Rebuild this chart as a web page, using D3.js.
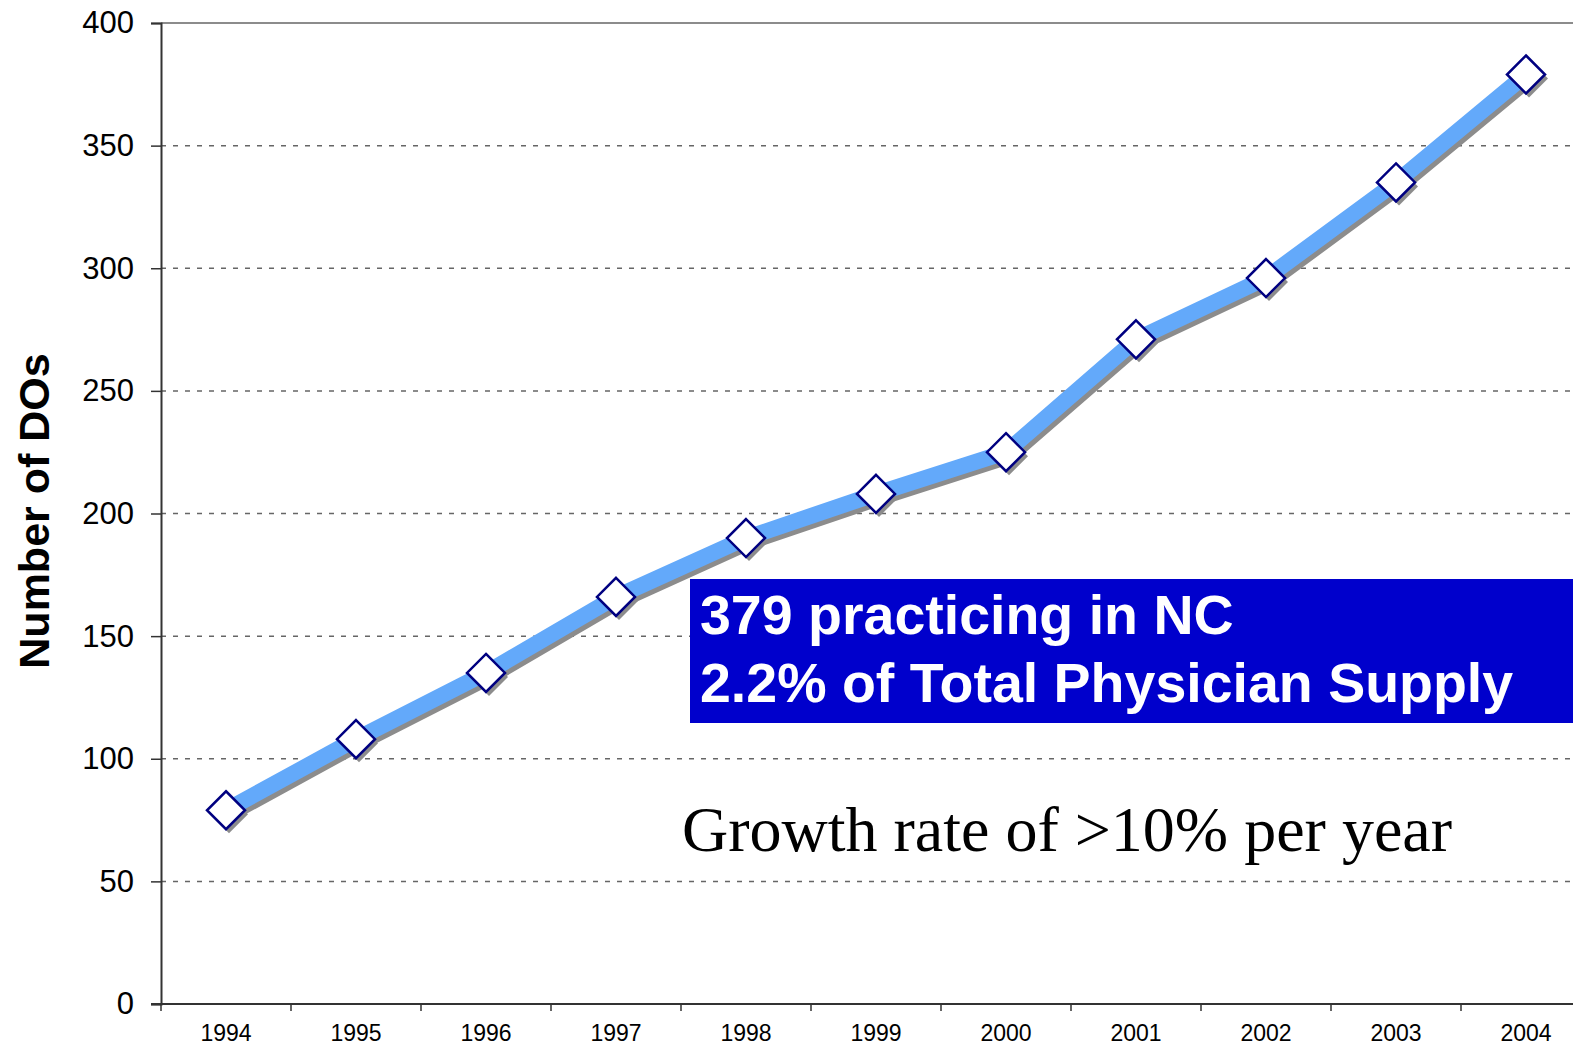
<!DOCTYPE html>
<head>
  <meta charset="utf-8">
  <title>Number of DOs</title>
  <script src="https://d3js.org/d3.v7.min.js"></script>
  <style>
    body { margin: 0; background: #fff; overflow: hidden; }
    .ylab { font-family: "Liberation Sans", Arial, sans-serif; font-size: 31px; fill: #000; }
    .xlab { font-family: "Liberation Sans", Arial, sans-serif; font-size: 23px; fill: #000; }
  </style>
</head>
<body>
  <div id="root"></div>
  <script>
    // data
    var years = ["1994", "1995", "1996", "1997", "1998", "1999", "2000", "2001", "2002", "2003", "2004"];
    var doCounts = [79, 108, 135, 166, 190, 208, 225, 271, 296, 335, 379];
    var yTicks = [0, 50, 100, 150, 200, 250, 300, 350, 400];
    var boxLines = ["379 practicing in NC", "2.2% of Total Physician Supply"];
    var noteText = "Growth rate of >10% per year";

    var W = 1573, H = 1047;
    var plotLeft = 161, plotTop = 23, plotBottom = 1004, plotRight = 1591;

    var svg = d3.select("#root").append("svg")
      .attr("width", W)
      .attr("height", H);

    var x = d3.scaleBand().domain(years).range([plotLeft, plotRight]).padding(0);
    var y = d3.scaleLinear().domain([0, 400]).range([plotBottom, plotTop]);

    // gridlines (dashed), solid at top
    svg.append("g").selectAll("line")
      .data(yTicks.filter(function(d){ return d > 0; }))
      .enter().append("line")
        .attr("x1", plotLeft).attr("x2", plotRight)
        .attr("y1", function(d){ return y(d); })
        .attr("y2", function(d){ return y(d); })
        .attr("stroke", "#666")
        .attr("stroke-width", 1.5)
        .attr("stroke-dasharray", function(d){ return d == 400 ? null : "5,7"; });

    // y axis
    var yAxis = svg.append("g")
      .attr("transform", "translate(" + plotLeft + ",0)")
      .call(d3.axisLeft(y).tickValues(yTicks).tickSize(10).tickPadding(17));
    yAxis.select(".domain").attr("stroke", "#333").attr("stroke-width", 2);
    yAxis.selectAll(".tick line").attr("stroke", "#333").attr("stroke-width", 1.5);
    yAxis.selectAll("text").attr("class", "ylab").attr("font-family", null).attr("font-size", null);

    // x axis: ticks at band boundaries
    var xAxis = svg.append("g")
      .attr("transform", "translate(0," + plotBottom + ")");
    xAxis.append("line")
      .attr("x1", plotLeft - 10).attr("x2", plotRight)
      .attr("stroke", "#333").attr("stroke-width", 2);
    xAxis.selectAll(".xt")
      .data(years)
      .enter().append("line")
        .attr("class", "xt")
        .attr("x1", function(d){ return x(d); })
        .attr("x2", function(d){ return x(d); })
        .attr("y1", 0).attr("y2", 7)
        .attr("stroke", "#333").attr("stroke-width", 1.5);
    xAxis.selectAll(".xlab")
      .data(years)
      .enter().append("text")
        .attr("class", "xlab")
        .attr("x", function(d){ return x(d) + x.bandwidth() / 2; })
        .attr("y", 37)
        .attr("text-anchor", "middle")
        .text(function(d){ return d; });

    // y axis title
    svg.append("text")
      .attr("transform", "translate(49,511) rotate(-90)")
      .attr("text-anchor", "middle")
      .style("font-family", "'Liberation Sans', Arial, sans-serif")
      .style("font-weight", "bold")
      .style("font-size", "43px")
      .text("Number of DOs");

    // the line, with a grey shadow
    var pts = years.map(function(d, i){ return [x(d) + x.bandwidth() / 2, y(doCounts[i])]; });
    var line = d3.line();

    svg.append("path")
      .attr("d", line(pts))
      .attr("transform", "translate(3,4)")
      .attr("fill", "none")
      .attr("stroke", "#8c8c8c")
      .attr("stroke-width", 16)
      .attr("stroke-linejoin", "round");
    svg.append("path")
      .attr("d", line(pts))
      .attr("fill", "none")
      .attr("stroke", "#63a9fa")
      .attr("stroke-width", 16)
      .attr("stroke-linejoin", "round");

    // diamond markers
    var diamond = "M0,-19L19,0L0,19L-19,0Z";
    svg.append("g").selectAll("path")
      .data(pts)
      .enter().append("path")
        .attr("d", diamond)
        .attr("transform", function(p){ return "translate(" + (p[0] + 3) + "," + (p[1] + 4) + ")"; })
        .attr("fill", "#8c8c8c");
    svg.append("g").selectAll("path")
      .data(pts)
      .enter().append("path")
        .attr("d", diamond)
        .attr("transform", function(p){ return "translate(" + p[0] + "," + p[1] + ")"; })
        .attr("fill", "#fff")
        .attr("stroke", "#000080")
        .attr("stroke-width", 2.5);

    // blue callout box
    svg.append("rect")
      .attr("x", 690).attr("y", 579)
      .attr("width", 900).attr("height", 144)
      .attr("fill", "#0000cc");
    svg.append("g").selectAll("text")
      .data(boxLines)
      .enter().append("text")
        .attr("x", 700)
        .attr("y", function(d, i){ return 634 + i * 68; })
        .style("font-family", "'Liberation Sans', Arial, sans-serif")
        .style("font-weight", "bold")
        .style("font-size", "55.5px")
        .attr("fill", "#fff")
        .text(function(d){ return d; });

    // growth note
    svg.append("text")
      .attr("x", 682).attr("y", 851)
      .style("font-family", "'Liberation Serif', 'Times New Roman', serif")
      .style("font-size", "64px")
      .attr("fill", "#000")
      .text(noteText);
  </script>
</body>
